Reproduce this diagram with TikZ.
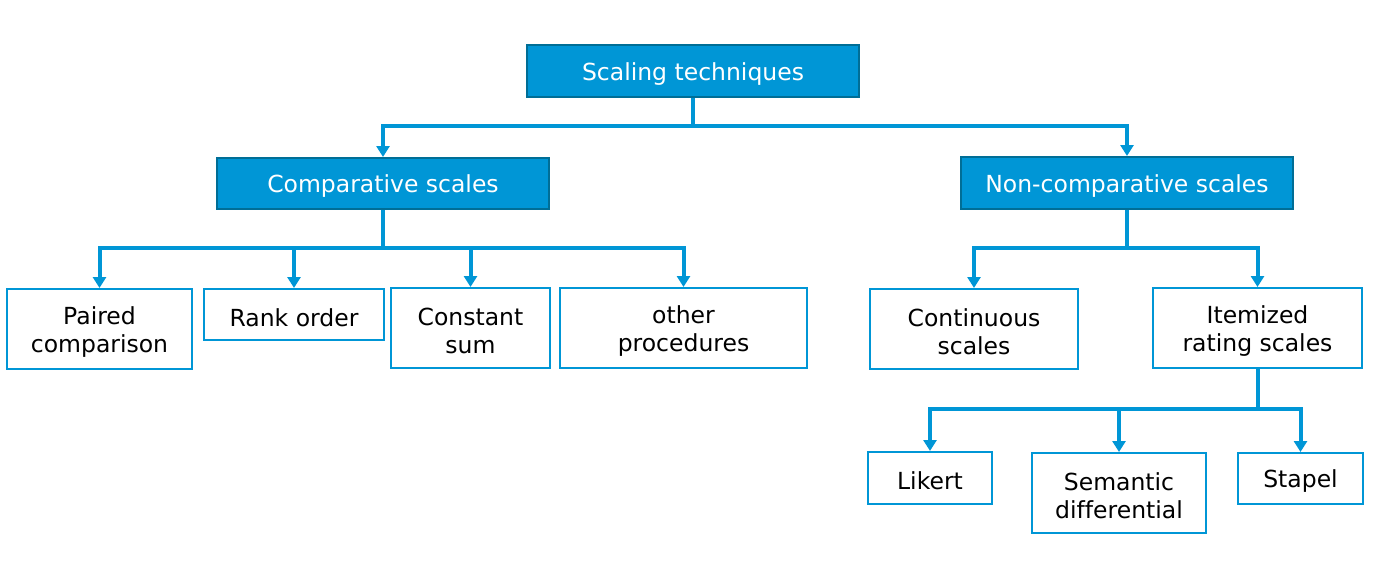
\documentclass[tikz,border=0pt]{standalone}
\usepackage{fontspec}
\setmainfont[Ligatures=NoCommon]{DejaVu Sans}
\usetikzlibrary{arrows.meta}
\definecolor{cblue}{HTML}{0096D6}
\definecolor{dblue}{HTML}{006E96}
\tikzset{
  fbox/.style={draw=dblue, fill=cblue, line width=2pt, inner sep=0pt},
  wbox/.style={draw=cblue, fill=white, line width=2pt, inner sep=0pt},
  lab/.style={inner sep=0pt, align=center, yshift=-3pt, font=\fontsize{23.5}{28}\selectfont},
  flab/.style={lab, text=white},
  wlab/.style={lab, text=black},
  link/.style={draw=cblue, line width=4pt},
  arr/.style={link, -{Triangle[width=13pt,length=11pt]}}
}
\begin{document}
\begin{tikzpicture}[x=1pt,y=-1pt]
\useasboundingbox (0,0) rectangle (1380,562);
\node[fbox, minimum width=332pt, minimum height=52pt, label={[flab]center:Scaling techniques}] (root) at (693,71) {};
\node[fbox, minimum width=332pt, minimum height=51pt, label={[flab]center:Comparative scales}] (comp) at (383,183.5) {};
\node[fbox, minimum width=332pt, minimum height=52pt, label={[flab]center:Non-comparative scales}] (ncomp) at (1127,183) {};
\node[wbox, minimum width=185pt, minimum height=80pt, label={[wlab]center:{Paired\\comparison}}] (pc) at (99.5,329) {};
\node[wbox, minimum width=180pt, minimum height=51pt, label={[wlab]center:Rank order}] (ro) at (294,314.5) {};
\node[wbox, minimum width=159pt, minimum height=80pt, label={[wlab]center:{Constant\\sum}}] (cs) at (470.5,328) {};
\node[wbox, minimum width=247pt, minimum height=80pt, label={[wlab]center:{other\\procedures}}] (op) at (683.5,328) {};
\node[wbox, minimum width=208pt, minimum height=80pt, label={[wlab]center:{Continuous\\scales}}] (cont) at (974,329) {};
\node[wbox, minimum width=209pt, minimum height=80pt, label={[wlab]center:{Itemized\\rating scales}}] (item) at (1257.5,328) {};
\node[wbox, minimum width=124pt, minimum height=52pt, label={[wlab]center:Likert}] (lik) at (930,478) {};
\node[wbox, minimum width=174pt, minimum height=80pt, label={[wlab]center:{Semantic\\differential}}] (sem) at (1119,493) {};
\node[wbox, minimum width=125pt, minimum height=51pt, label={[wlab]center:Stapel}] (sta) at (1300.5,478.5) {};
\coordinate (j1) at (693,126);
\coordinate (j2) at (383,248);
\coordinate (j3) at (1127,248);
\coordinate (j4) at (1257.5,409);
\draw[link] (root.south) -- (j1);
\draw[arr] (j1) -| (comp.north);
\draw[arr] (j1) -| (ncomp.north);
\draw[link] (comp.south) -- (j2);
\draw[arr] (j2) -| (pc.north);
\draw[arr] (j2) -| (ro.north);
\draw[arr] (j2) -| (cs.north);
\draw[arr] (j2) -| (op.north);
\draw[link] (ncomp.south) -- (j3);
\draw[arr] (j3) -| (cont.north);
\draw[arr] (j3) -| (item.north);
\draw[link] (item.south) -- (j4);
\draw[arr] (j4) -| (lik.north);
\draw[arr] (j4) -| (sem.north);
\draw[arr] (j4) -| (sta.north);
\end{tikzpicture}
\end{document}
